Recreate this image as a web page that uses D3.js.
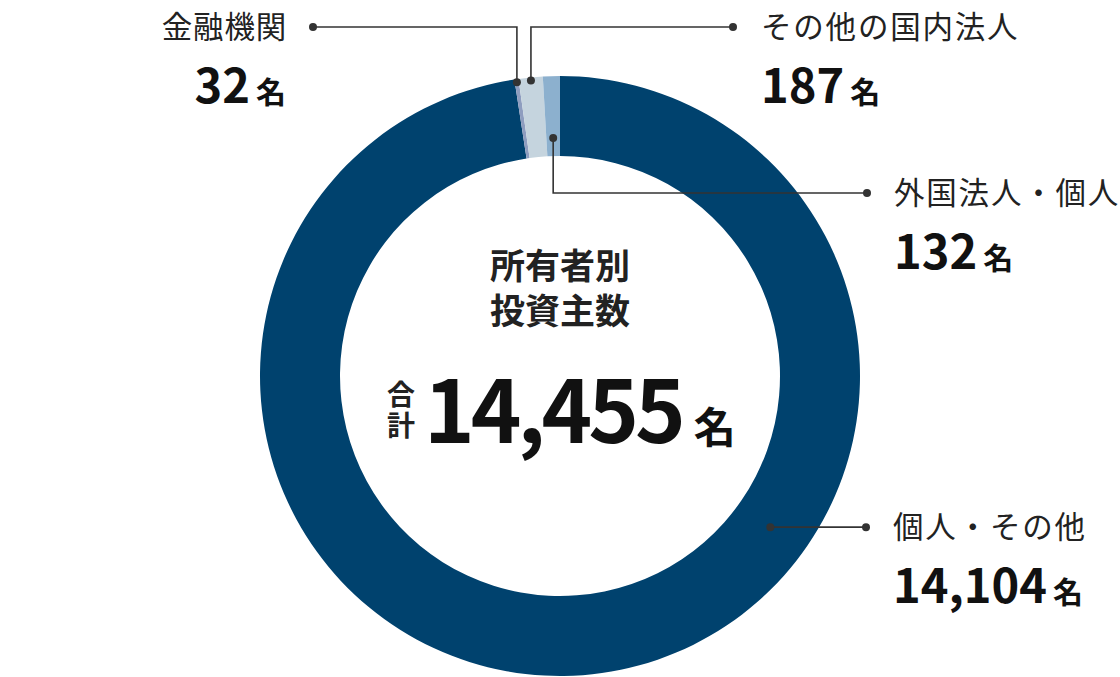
<!DOCTYPE html>
<html>
<head>
<meta charset="utf-8">
<script src="https://cdn.jsdelivr.net/npm/d3@7"></script>
<style>
  html, body { margin: 0; padding: 0; background: #fff; }
  svg { display: block; font-family: "Noto Sans CJK JP", "Noto Sans", sans-serif; }
</style>
</head>
<body>
<div id="chart"></div>
<script>
// data (clockwise from 12 o'clock)
var categories = ["個人・その他", "金融機関", "その他の国内法人", "外国法人・個人"];
var counts = [14104, 32, 187, 132];
var colors = ["#00426e", "#8e9dbf", "#c5d4de", "#8cb0ce"];
var totalLabel = "合計";
var centerTitle = ["所有者別", "投資主数"];
var unit = "名";

var svgWidth = 1120;
var svgHeight = 677;

var cx = 560, cy = 376;
var outerR = 300, innerR = 220;

// label placement: anchor on ring (angle in deg, radius), elbow, end of line, text side
var layout = [
  { angle: 125.7, r: 259, elbowY: null, endX: 866, side: "right", textX: 893, labelY: 527 },
  { angle: null, r: 297, elbowY: 27, endX: 313, side: "left", textX: 286, labelY: 27 },
  { angle: null, r: 297, elbowY: 27, endX: 733, side: "right", textX: 761, labelY: 27 },
  { angle: null, r: 238, elbowY: 193, endX: 867, side: "right", textX: 894, labelY: 193 }
];

var data = categories.map(function(c, i) {
  return { name: c, value: counts[i], color: colors[i], pos: layout[i] };
});

var svg = d3.select("#chart")
  .append("svg")
  .attr("width", svgWidth)
  .attr("height", svgHeight);

var g = svg.append("g")
  .attr("transform", `translate(${cx}, ${cy})`);

var pie = d3.pie()
  .sort(null)
  .value(d => d.value);

var arc = d3.arc()
  .innerRadius(innerR)
  .outerRadius(outerR);

var arcs = pie(data);

g.selectAll("path.slice")
  .data(arcs)
  .enter()
  .append("path")
  .attr("class", "slice")
  .attr("d", arc)
  .attr("fill", d => d.data.color);

// leader lines + labels
arcs.forEach(function(a) {
  var p = a.data.pos;
  var ang = p.angle == null ? (a.startAngle + a.endAngle) / 2 : p.angle * Math.PI / 180;
  var x0 = cx + p.r * Math.sin(ang);
  var y0 = cy - p.r * Math.cos(ang);
  var pts = [[x0, y0]];
  if (p.elbowY != null) {
    pts.push([x0, p.elbowY]);
    pts.push([p.endX, p.elbowY]);
  } else {
    pts.push([p.endX, y0]);
  }
  svg.append("path")
    .attr("d", d3.line()(pts))
    .attr("fill", "none")
    .attr("stroke", "#333")
    .attr("stroke-width", 1.6);
  svg.append("circle").attr("cx", x0).attr("cy", y0).attr("r", 4).attr("fill", "#333");
  var last = pts[pts.length - 1];
  svg.append("circle").attr("cx", last[0]).attr("cy", last[1]).attr("r", 4).attr("fill", "#333");

  var left = p.side === "left";
  var anchor = left ? "end" : "start";
  svg.append("text")
    .attr("x", left ? p.textX + 1 : p.textX)
    .attr("y", p.labelY)
    .attr("dy", "0.36em")
    .attr("text-anchor", anchor)
    .attr("font-size", 30.5)
    .attr("letter-spacing", left ? 0.8 : 1.8)
    .attr("fill", "#222")
    .text(a.data.name);
  var num = svg.append("text")
    .attr("x", p.textX)
    .attr("y", p.labelY + 76)
    .attr("text-anchor", anchor)
    .attr("fill", "#111")
    .attr("font-weight", 700);
  num.append("tspan")
    .attr("font-size", 47)
    .text(d3.format(",")(a.data.value));
  num.append("tspan")
    .attr("dx", 6)
    .attr("font-size", 30)
    .text(unit);
});

// center text
var center = svg.append("g").attr("fill", "#222").attr("font-weight", 700);
var title = center.append("text")
  .attr("text-anchor", "middle")
  .attr("font-size", 35);
centerTitle.forEach(function(t, i) {
  title.append("tspan")
    .attr("x", cx)
    .attr("y", 266 + i * 45)
    .attr("dy", "0.36em")
    .text(t);
});
var sub = center.append("text")
  .attr("text-anchor", "middle")
  .attr("font-size", 28);
totalLabel.split("").forEach(function(ch, i) {
  sub.append("tspan")
    .attr("x", 401)
    .attr("y", 395 + i * 31)
    .attr("dy", "0.36em")
    .text(ch);
});
var total = d3.sum(counts);
var tot = center.append("text")
  .attr("x", 424)
  .attr("y", 443)
  .attr("fill", "#111");
tot.append("tspan")
  .attr("font-size", 86)
  .attr("letter-spacing", -4)
  .text(d3.format(",")(total));
tot.append("tspan")
  .attr("dx", 12)
  .attr("font-size", 42)
  .text(unit);
</script>
</body>
</html>
